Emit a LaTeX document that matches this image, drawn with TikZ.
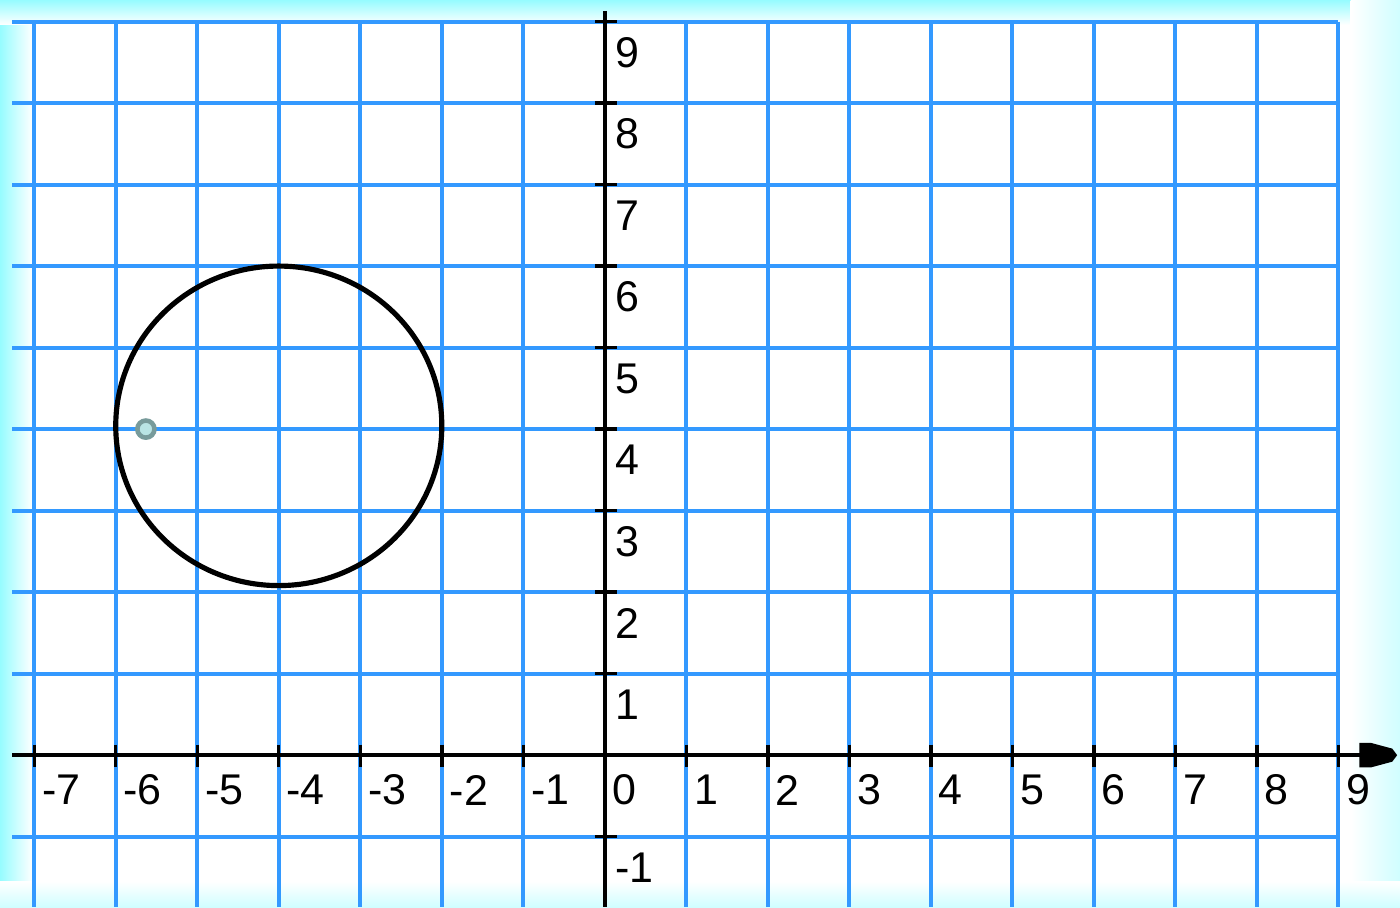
\documentclass[tikz,border=0pt]{standalone}
\usepackage{fontspec}
\setmainfont{Liberation Sans}
\definecolor{gridblue}{RGB}{51,153,255}
\definecolor{glow}{RGB}{150,252,255}
\definecolor{ptfill}{RGB}{185,228,228}
\definecolor{ptdraw}{RGB}{120,155,155}
\begin{document}
\begin{tikzpicture}[
  gridline/.style={draw=gridblue, line width=1.4pt},
  axisline/.style={draw=black, line width=1.4pt},
  tickline/.style={draw=black, line width=1.2pt},
  lbl/.style={font=\fontsize{15}{18}\selectfont, inner sep=0pt, anchor=west},
  curve/.style={draw=black, line width=1.8pt}
]
\useasboundingbox (-7.42,-1.865) rectangle (9.755,9.264);
\fill[white] (-7.42,-1.865) rectangle (9.755,9.264);
% edge glow
\shade[left color=glow, right color=white] (-7.42,-1.865) rectangle (-7.02,9.264);
\shade[top color=glow, bottom color=white] (-7.42,9.264) rectangle (9.755,8.96);
\shade[left color=white, right color=glow!45] (9.15,-1.865) rectangle (9.755,9.264);
\shade[top color=white, bottom color=glow!45] (-7.42,-1.55) rectangle (9.755,-1.865);
% grid
\foreach \x in {-7,...,9} \draw[gridline] (\x,9) -- (\x,-1.865);
\foreach \y in {-1,...,9} \draw[gridline] (-7.27,\y) -- (9,\y);
% axes
\coordinate (xs) at (-7.27,0);
\coordinate (xe) at (9.26,0);
\coordinate (ys) at (0,9.13);
\coordinate (ye) at (0,-1.865);
\draw[axisline] (xs) -- (xe);
\draw[axisline] (ys) -- (ye);
\fill[black] (9.257,0.15) -- (9.40,0.15) -- (9.66,0.08) -- (9.72,0) -- (9.66,-0.08) -- (9.40,-0.15) -- (9.257,-0.15) -- cycle;
% ticks and labels
\foreach \x in {-7,...,9} {
  \draw[tickline] (\x,0.13) -- (\x,-0.14);
  \node[lbl] (xl\x) at (\x+0.09,-0.43) {\x};
}
\foreach \y in {-1,1,2,...,9} {
  \draw[tickline] (-0.12,\y) -- (0.15,\y);
  \node[lbl] (yl\y) at (0.12,\y-0.38) {\y};
}
% circle
\draw[curve] (-4,4.04) ellipse [x radius=2, y radius=1.96];
% point
\node[circle, draw=ptdraw, fill=ptfill, line width=1.6pt, minimum size=0.21cm, inner sep=0pt] (pt) at (-5.63,4) {};
\end{tikzpicture}
\end{document}
